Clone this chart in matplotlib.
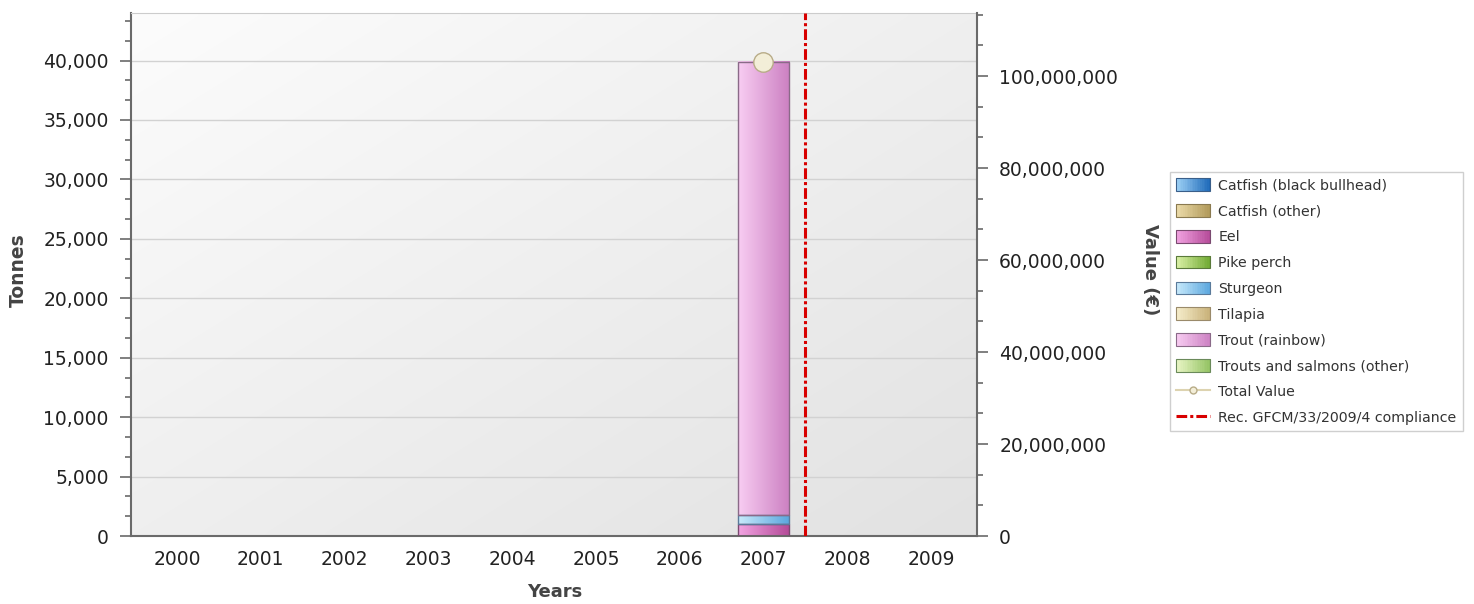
import numpy as np
import matplotlib
matplotlib.use('Agg')
import matplotlib.pyplot as plt
from matplotlib.patches import Rectangle
from matplotlib.lines import Line2D
from matplotlib.legend_handler import HandlerBase
from matplotlib.ticker import FuncFormatter, MultipleLocator, AutoMinorLocator
from matplotlib.colors import LinearSegmentedColormap

years = ['2000', '2001', '2002', '2003', '2004', '2005', '2006', '2007', '2008', '2009']
species = ['Catfish (black bullhead)', 'Catfish (other)', 'Eel', 'Pike perch',
           'Sturgeon', 'Tilapia', 'Trout (rainbow)', 'Trouts and salmons (other)']

# tonnes per year, only 2007 is reported
catfish_black = [0, 0, 0, 0, 0, 0, 0, 0, 0, 0]
catfish_other = [0, 0, 0, 0, 0, 0, 0, 0, 0, 0]
eel = [0, 0, 0, 0, 0, 0, 0, 1000, 0, 0]
pike_perch = [0, 0, 0, 0, 0, 0, 0, 0, 0, 0]
sturgeon = [0, 0, 0, 0, 0, 0, 0, 750, 0, 0]
tilapia = [0, 0, 0, 0, 0, 0, 0, 0, 0, 0]
trout_rainbow = [0, 0, 0, 0, 0, 0, 0, 38150, 0, 0]
trouts_salmons = [0, 0, 0, 0, 0, 0, 0, 0, 0, 0]

# value in euro
total_value = [np.nan, np.nan, np.nan, np.nan, np.nan, np.nan, np.nan, 103000000, np.nan, np.nan]
compliance_year = '2007'  # line drawn just after this year

series = [catfish_black, catfish_other, eel, pike_perch, sturgeon, tilapia, trout_rainbow, trouts_salmons]
# (left colour, right colour, edge) of the horizontal gradients
gradients = [
    ('#9fd2f6', '#1c68b8', '#3a5f8a'),
    ('#ecdcaa', '#b09858', '#8a7a50'),
    ('#f2a4e2', '#b44a98', '#7a4a70'),
    ('#dcf2a8', '#6ea830', '#5a7a3a'),
    ('#c8eafb', '#5aa6de', '#5a7a9a'),
    ('#f6eecc', '#c8b078', '#9a8a6a'),
    ('#f8cdf2', '#cc80c2', '#8a6a88'),
    ('#eaf6c6', '#92c262', '#6a8a5a'),
]


class GradientHandler(HandlerBase):
    def __init__(self, left, right, edge):
        super().__init__()
        self.cmap = LinearSegmentedColormap.from_list('g', [left, right])
        self.edge = edge

    def create_artists(self, legend, orig_handle, xdescent, ydescent, width, height, fontsize, trans):
        n = 20
        arts = []
        for i in range(n):
            arts.append(Rectangle((-xdescent + width * i / n, -ydescent), width / n + 0.3, height,
                                  facecolor=self.cmap((i + 0.5) / n), edgecolor='none', transform=trans))
        arts.append(Rectangle((-xdescent, -ydescent), width, height, facecolor='none',
                              edgecolor=self.edge, lw=0.8, transform=trans))
        return arts


fig = plt.figure(figsize=(14.74, 6.04), dpi=100)
ax = fig.add_axes([131 / 1474, 1 - 536 / 604, (977 - 131) / 1474, (536 - 13) / 604])
ax2 = ax.twinx()

x = np.arange(len(years))
width = 0.61

# background gradient
bg = np.add.outer(np.linspace(0, 1, 100), np.linspace(0, 1, 200)) / 2
bg_cmap = LinearSegmentedColormap.from_list('bg', ['#fcfcfc', '#e2e2e2'])
ax.imshow(bg, cmap=bg_cmap, extent=[0, 1, 0, 1], transform=ax.transAxes,
          aspect='auto', zorder=-10, interpolation='bicubic')

bottom = np.zeros(len(years))
grad = np.linspace(0, 1, 64).reshape(1, -1)
for vals, (c1, c2, ec) in zip(series, gradients):
    vals = np.array(vals, dtype=float)
    mask = vals > 0
    if mask.any():
        bars = ax.bar(x[mask], vals[mask], width, bottom=bottom[mask],
                      facecolor='none', edgecolor=ec, lw=1, zorder=3)
        cmap = LinearSegmentedColormap.from_list('s', [c1, c2])
        for p in bars.patches:
            ax.imshow(grad, cmap=cmap, aspect='auto', interpolation='bicubic', zorder=2,
                      extent=[p.get_x(), p.get_x() + p.get_width(), p.get_y(), p.get_y() + p.get_height()])
    bottom += vals

ax.axvline(years.index(compliance_year) + 0.5, color='#d80000', lw=2.2, dashes=(3.5, 1, 1, 1), zorder=4)

ax2.plot(x, total_value, color='#ddd3b0', lw=1.5, marker='o', ms=14,
         mfc='#f3eed8', mec='#b8ac88', mew=1, zorder=5)

ax.set_xlim(-0.55, 9.55)
ax.set_ylim(0, 44000)
ax2.set_ylim(0, 113.7e6)
ax.set_xticks(x)
ax.set_xticklabels(years)

ax.yaxis.set_major_locator(MultipleLocator(5000))
ax.yaxis.set_minor_locator(AutoMinorLocator(3))
ax2.yaxis.set_major_locator(MultipleLocator(20000000))
ax2.yaxis.set_minor_locator(AutoMinorLocator(3))
comma = FuncFormatter(lambda v, p: '{:,.0f}'.format(v))
ax.yaxis.set_major_formatter(comma)
ax2.yaxis.set_major_formatter(comma)

ax.yaxis.grid(True, color='#d2d2d2', lw=1)
ax.set_axisbelow(True)

tick_col = '#6a6a6a'
ax.tick_params(axis='x', length=0, pad=10, labelsize=13.5, labelcolor='#222222')
ax.tick_params(axis='y', which='major', length=8, width=1.2, color=tick_col, pad=8,
               labelsize=13.5, labelcolor='#222222')
ax.tick_params(axis='y', which='minor', length=4, width=1.2, color=tick_col)
ax2.tick_params(axis='y', which='major', length=8, width=1.2, color=tick_col, pad=8,
                labelsize=13.5, labelcolor='#222222')
ax2.tick_params(axis='y', which='minor', length=4, width=1.2, color=tick_col)

for s in ['left', 'bottom']:
    ax.spines[s].set_color(tick_col)
    ax.spines[s].set_linewidth(1.5)
ax.spines['top'].set_color('#cccccc')
ax.spines['right'].set_visible(False)
for s in ['left', 'bottom', 'top']:
    ax2.spines[s].set_visible(False)
ax2.spines['right'].set_color(tick_col)
ax2.spines['right'].set_linewidth(1.5)

fig.text(18 / 1474, 1 - 270 / 604, 'Tonnes', rotation=90, ha='center', va='center',
         fontsize=13.5, weight='bold', color='#444444')
fig.text(555 / 1474, 1 - 592 / 604, 'Years', ha='center', va='center',
         fontsize=13, weight='bold', color='#444444')
fig.text(1150 / 1474, 1 - 270 / 604, 'Value (€)', rotation=270, ha='center', va='center',
         fontsize=13, weight='bold', color='#444444')

# legend
handles = []
hmap = {}
for name, (c1, c2, ec) in zip(species, gradients):
    h = Rectangle((0, 0), 1, 1, label=name)
    handles.append(h)
    hmap[h] = GradientHandler(c1, c2, ec)
handles.append(Line2D([], [], color='#ddd3b0', lw=1.5, marker='o', ms=5,
                      mfc='#f3eed8', mec='#b8ac88', label='Total Value'))
handles.append(Line2D([], [], color='#d80000', lw=2.2, dashes=(3.5, 1, 1, 1),
                      label='Rec. GFCM/33/2009/4 compliance'))

leg = ax2.legend(handles=handles, handler_map=hmap, loc='upper left',
                 bbox_to_anchor=(1170 / 1474, 1 - 172 / 604), bbox_transform=fig.transFigure,
                 borderaxespad=0, fontsize=10.2, frameon=True, fancybox=False,
                 handlelength=2.4, handleheight=1.0, handletextpad=0.55,
                 labelspacing=0.82, borderpad=0.45)
leg.get_frame().set_edgecolor('#c4c4c4')
leg.get_frame().set_linewidth(1)
for t in leg.get_texts():
    t.set_color('#333333')

fig.savefig('out.png', dpi=100)
